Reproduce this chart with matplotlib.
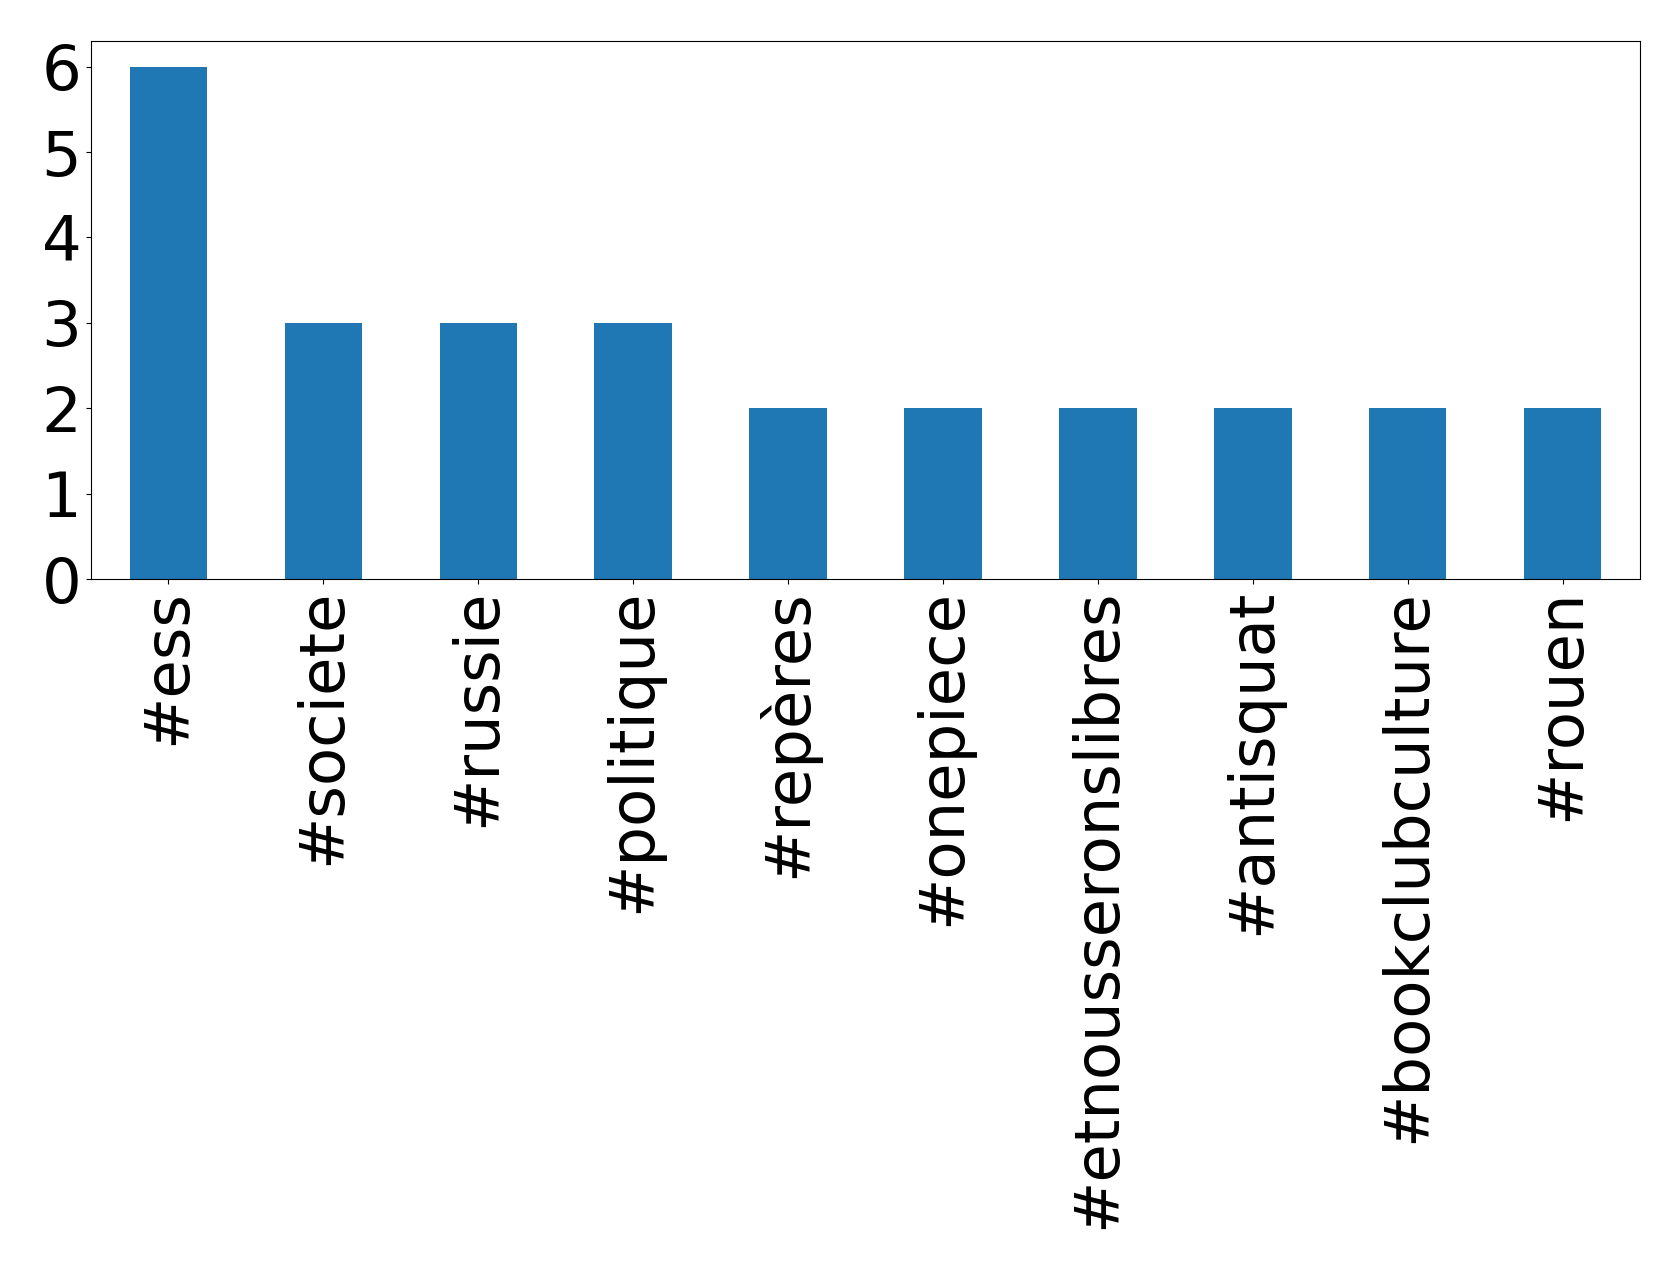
import matplotlib
matplotlib.use('Agg')
import matplotlib.pyplot as plt

hashtags = ['#ess', '#societe', '#russie', '#politique', '#repères',
            '#onepiece', '#etnousseronslibres', '#antisquat',
            '#bookclubculture', '#rouen']
counts = [6, 3, 3, 3, 2, 2, 2, 2, 2, 2]

fig = plt.figure(figsize=(16.79, 12.69), dpi=100)
ax = fig.add_subplot(1, 1, 1)
fig.subplots_adjust(left=0.0542, right=0.9768, top=0.9677, bottom=0.5437)

pos = range(len(hashtags))
ax.bar(pos, counts, width=0.5, color='#1f77b4')
ax.set_xlim(-0.5, len(hashtags) - 0.5)
ax.set_xticks(list(pos))
ax.set_xticklabels(hashtags, rotation=90)
ax.set_yticks(range(0, max(counts) + 1))
ax.tick_params(axis='both', labelsize=45)

plt.savefig('out.png', dpi=100)
